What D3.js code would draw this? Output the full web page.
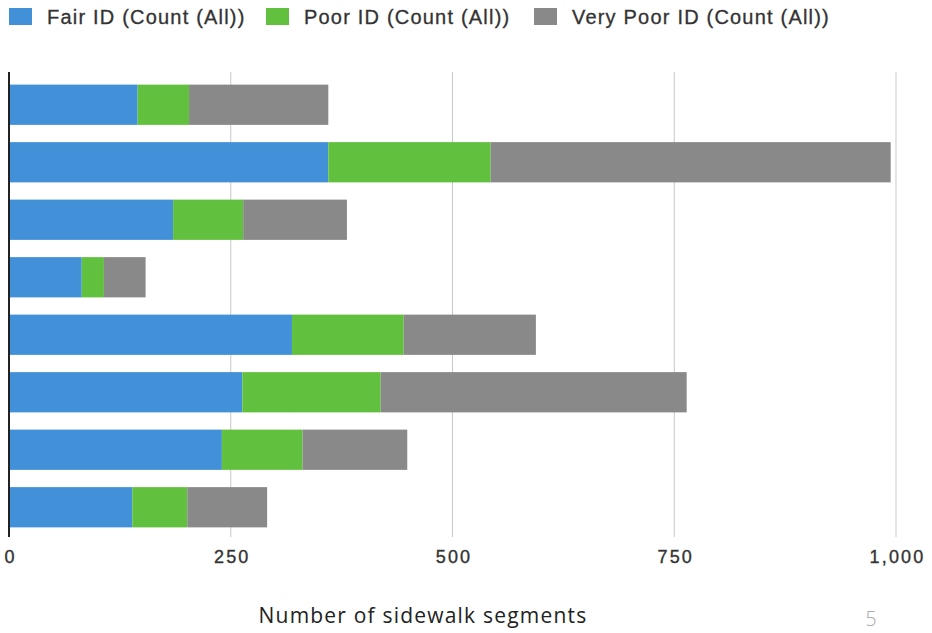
<!DOCTYPE html>
<html>
<head>
<meta charset="utf-8">
<script src="https://cdn.jsdelivr.net/npm/d3@7"></script>
<style>
  body { margin: 0; background: #ffffff; }
  svg { display: block; }
</style>
</head>
<body>
<script>
// chart data (one entry per bar, top to bottom)
var categories = ["Row 1", "Row 2", "Row 3", "Row 4", "Row 5", "Row 6", "Row 7", "Row 8"];
var fairCounts = [145, 360, 185, 82, 319, 263, 240, 139];
var poorCounts = [58, 183, 79, 25, 126, 156, 91, 62];
var veryPoorCounts = [157, 451, 117, 47, 149, 345, 118, 90];
var seriesNames = ["Fair ID (Count (All))", "Poor ID (Count (All))", "Very Poor ID (Count (All))"];
var xTicks = [0, 250, 500, 750, 1000];
var axisTitle = "Number of sidewalk segments";
var pageNumber = "5";

var width = 932, height = 633;
var colors = ["#4290d8", "#62c03f", "#898989"];
var labelFont = "'Liberation Sans', Arial, sans-serif";

var svg = d3.select("body").append("svg")
  .attr("width", width).attr("height", height);

// table for the stack layout
var rows = categories.map(function(c, i) {
  return { cat: c, fair: fairCounts[i], poor: poorCounts[i], vpoor: veryPoorCounts[i] };
});
var keys = ["fair", "poor", "vpoor"];
var stacked = d3.stack().keys(keys)(rows);

var x = d3.scaleLinear().domain([0, 1000]).range([9, 896]);
var y = d3.scaleBand().domain(categories).range([76, 536])
  .paddingInner(0.3).paddingOuter(0.15);

var yTop = 72, yBottom = 537;

// gridlines
svg.append("g").selectAll("line.grid")
  .data(xTicks.slice(1)).enter().append("line")
    .attr("class", "grid")
    .attr("x1", function(d) { return x(d); })
    .attr("x2", function(d) { return x(d); })
    .attr("y1", yTop).attr("y2", yBottom)
    .attr("stroke", "#c8c8c8").attr("stroke-width", 1);

// bars
var layers = svg.append("g").selectAll("g.layer")
  .data(stacked).enter().append("g")
    .attr("class", "layer")
    .attr("fill", function(d, i) { return colors[i]; });

layers.selectAll("rect")
  .data(function(d) { return d; }).enter().append("rect")
    .attr("x", function(d) { return x(d[0]); })
    .attr("y", function(d) { return y(d.data.cat); })
    .attr("width", function(d) { return x(d[1]) - x(d[0]); })
    .attr("height", y.bandwidth());

// x axis labels
var xAxis = d3.axisBottom(x)
  .tickValues(xTicks)
  .tickSize(0)
  .tickPadding(0)
  .tickFormat(d3.format(","));

var xg = svg.append("g")
  .attr("transform", "translate(0," + 563 + ")")
  .call(xAxis);
xg.select(".domain").remove();
xg.selectAll("text")
  .attr("dy", 0)
  .attr("dx", 1)
  .attr("font-family", labelFont)
  .attr("font-size", 18)
  .attr("letter-spacing", 2.2)
  .attr("fill", "#333")
  .attr("stroke", "#333")
  .attr("stroke-width", 0.35);

// y axis line (no labels)
var yAxis = d3.axisLeft(y).tickSize(0).tickFormat("");
var yg = svg.append("g")
  .attr("transform", "translate(" + x(0) + ",0)")
  .call(yAxis);
yg.select(".domain")
  .attr("d", "M0," + yTop + "V" + yBottom)
  .attr("stroke", "#222").attr("stroke-width", 2);

// legend
var legendX = [9, 266, 534];
var legend = svg.append("g").selectAll("g.leg")
  .data(seriesNames).enter().append("g")
    .attr("class", "leg")
    .attr("transform", function(d, i) { return "translate(" + legendX[i] + ",8)"; });
legend.append("rect")
  .attr("width", 23).attr("height", 17)
  .attr("fill", function(d, i) { return colors[i]; });
legend.append("text")
  .attr("x", 38).attr("y", 16)
  .attr("font-family", labelFont)
  .attr("font-size", 20)
  .attr("letter-spacing", 1.2)
  .attr("fill", "#333")
  .attr("stroke", "#333")
  .attr("stroke-width", 0.3)
  .text(function(d) { return d; });

// axis title
svg.append("text")
  .attr("x", 423).attr("y", 623)
  .attr("text-anchor", "middle")
  .attr("font-family", "'Open Sans', sans-serif")
  .attr("font-size", 21)
  .attr("letter-spacing", 1.2)
  .attr("fill", "#222")
  .text(axisTitle);

// page number
svg.append("text")
  .attr("x", 871).attr("y", 626)
  .attr("text-anchor", "middle")
  .attr("font-family", "'Open Sans', sans-serif")
  .attr("font-size", 20)
  .attr("font-weight", 300)
  .attr("fill", "#aaa")
  .text(pageNumber);
</script>
</body>
</html>
